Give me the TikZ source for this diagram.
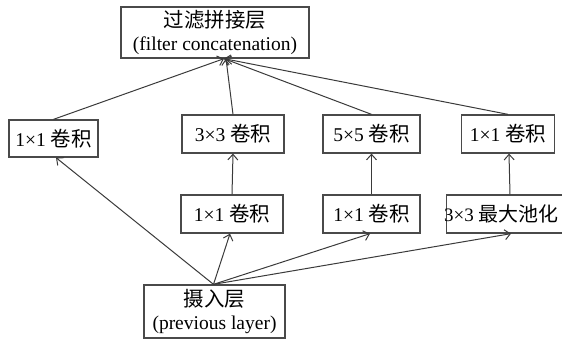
\documentclass[tikz,border=0pt]{standalone}
\usepackage{fontspec}
\setmainfont{Liberation Serif}
\newfontfamily\cjk[Scale=1.05]{Noto Sans CJK SC}
\usetikzlibrary{arrows.meta}
\definecolor{bord}{HTML}{4A4A4A}
\definecolor{arr}{HTML}{3A3A3A}
\tikzset{
  box/.style={draw=bord, line width=1.3pt, inner sep=0pt, align=center,
    font=\fontsize{19.5}{23}\selectfont},
  conn/.style={draw=arr, line width=1pt, -{Straight Barb[length=5.5pt,width=10pt,line width=1pt]}},
}
\begin{document}
\begin{tikzpicture}[x=1pt,y=-1pt]
\useasboundingbox (0,0) rectangle (562,340);
\clip (0,0) rectangle (562,340);
\node[box, minimum width=188, minimum height=51] (T) at (215,32.5)
  {{\cjk 过滤拼接层}\\(filter concatenation)};
\node[box, minimum width=89, minimum height=37] (L1) at (53.5,138.5) {1×1 {\cjk 卷积}};
\node[box, minimum width=102, minimum height=38] (C3) at (233,134) {3×3 {\cjk 卷积}};
\node[box, minimum width=97, minimum height=38] (C5) at (371.5,134) {5×5 {\cjk 卷积}};
\node[box, minimum width=93, minimum height=38] (R1) at (508,134) {1×1 {\cjk 卷积}};
\node[box, minimum width=102, minimum height=38] (M1) at (232,214) {1×1 {\cjk 卷积}};
\node[box, minimum width=97, minimum height=38] (M2) at (371.5,214) {1×1 {\cjk 卷积}};
\node[box, minimum height=38, anchor=west, font=\fontsize{19}{23}\selectfont] (P) at (446,214)
  {\hspace*{-2.5pt}3×3 {\cjk 最大池化}\hspace{40pt}};
\node[box, minimum width=141, minimum height=53] (B) at (214.5,311.5)
  {{\cjk 摄入层}\\(previous layer)};
% to top
\draw[conn] (L1.north) -- ([xshift=9pt]T.south);
\draw[conn] (C3.north) -- ([xshift=11pt]T.south);
\draw[conn] (C5.north) -- ([xshift=9pt]T.south);
\draw[conn] (R1.north) -- ([xshift=9pt]T.south);
% middle verticals
\draw[conn] (M1.north) -- (C3.south);
\draw[conn] (M2.north) -- (C5.south);
\draw[conn] (P.north -| 510,0) -- ([xshift=1pt]R1.south);
% from bottom
\draw[conn] ([xshift=-1pt]B.north) -- ([xshift=2.5pt]L1.south);
\draw[conn] ([xshift=-1pt]B.north) -- ([xshift=-2pt]M1.south);
\draw[conn] ([xshift=-1pt]B.north) -- ([xshift=-1.5pt]M2.south);
\draw[conn] ([xshift=-1pt]B.north) -- (P.south -| 511,0);
\end{tikzpicture}
\end{document}
